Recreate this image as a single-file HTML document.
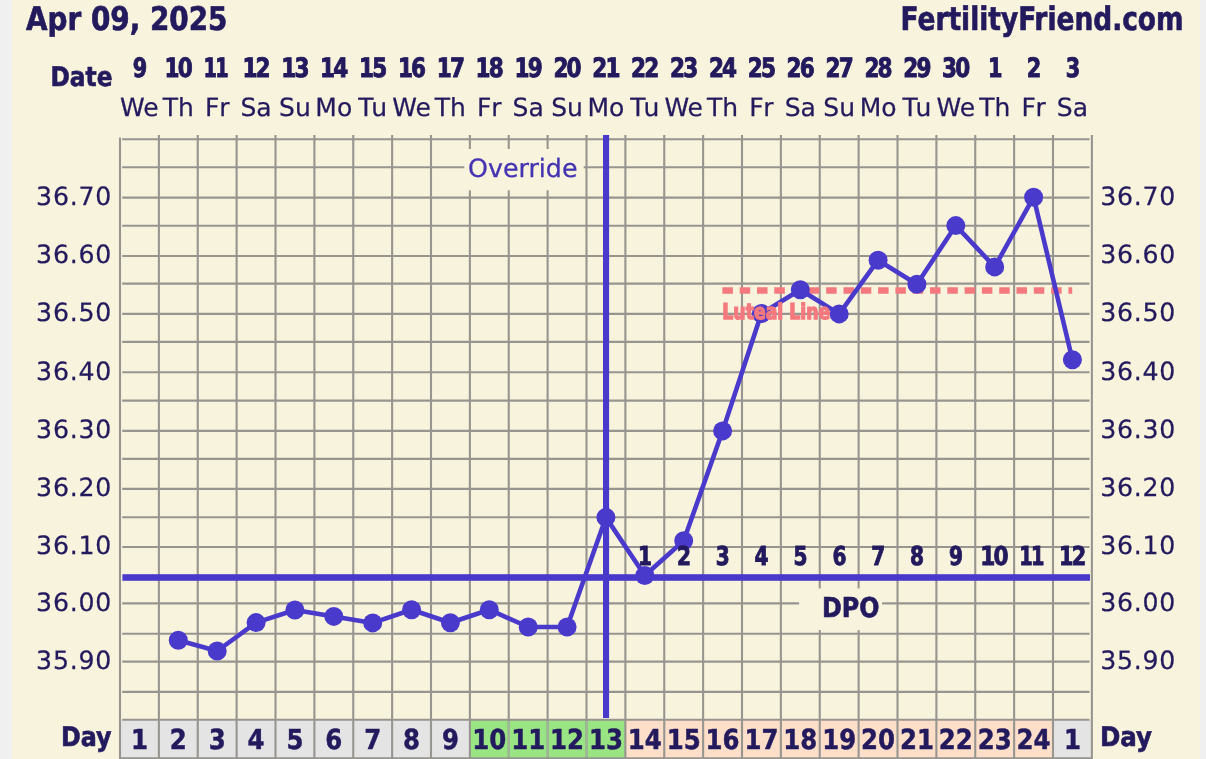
<!DOCTYPE html>
<html lang="en"><head><meta charset="utf-8"><title>FertilityFriend.com chart</title>
<style>html,body{margin:0;padding:0;background:#f0f0f0;overflow:hidden}svg{display:block;position:absolute;left:0;top:0;will-change:transform}text{font-family:"DejaVu Sans","Liberation Sans",sans-serif;fill:#231a5e;text-rendering:geometricPrecision}.b{font-family:"DejaVu Sans Condensed","DejaVu Sans","Liberation Sans",sans-serif;font-weight:bold;stroke:#231a5e;stroke-width:.6px}.bw{font-family:"DejaVu Sans","Liberation Sans",sans-serif;font-weight:bold;stroke:#231a5e;stroke-width:.5px}.m{text-anchor:middle}.d{stroke-width:.9px}.r{stroke:#231a5e;stroke-width:.25px}</style>
</head><body>
<svg width="1206" height="759" viewBox="0 0 1206 759">
<rect x="0" y="0" width="1206" height="759" fill="#f0f0f0"/>
<rect x="12" y="0" width="1188" height="759" fill="#f8f3dc"/>
<g>
<rect x="120.00" y="720" width="38.88" height="38.5" fill="#e4e4e4"/>
<rect x="158.88" y="720" width="38.88" height="38.5" fill="#e4e4e4"/>
<rect x="197.75" y="720" width="38.88" height="38.5" fill="#e4e4e4"/>
<rect x="236.62" y="720" width="38.88" height="38.5" fill="#e4e4e4"/>
<rect x="275.50" y="720" width="38.88" height="38.5" fill="#e4e4e4"/>
<rect x="314.38" y="720" width="38.88" height="38.5" fill="#e4e4e4"/>
<rect x="353.25" y="720" width="38.88" height="38.5" fill="#e4e4e4"/>
<rect x="392.12" y="720" width="38.88" height="38.5" fill="#e4e4e4"/>
<rect x="431.00" y="720" width="38.88" height="38.5" fill="#e4e4e4"/>
<rect x="469.88" y="720" width="38.88" height="38.5" fill="#99e483"/>
<rect x="508.75" y="720" width="38.88" height="38.5" fill="#99e483"/>
<rect x="547.62" y="720" width="38.88" height="38.5" fill="#99e483"/>
<rect x="586.50" y="720" width="38.88" height="38.5" fill="#99e483"/>
<rect x="625.38" y="720" width="38.88" height="38.5" fill="#fddfc9"/>
<rect x="664.25" y="720" width="38.88" height="38.5" fill="#fddfc9"/>
<rect x="703.12" y="720" width="38.88" height="38.5" fill="#fddfc9"/>
<rect x="742.00" y="720" width="38.88" height="38.5" fill="#fddfc9"/>
<rect x="780.88" y="720" width="38.88" height="38.5" fill="#fddfc9"/>
<rect x="819.75" y="720" width="38.88" height="38.5" fill="#fddfc9"/>
<rect x="858.62" y="720" width="38.88" height="38.5" fill="#fddfc9"/>
<rect x="897.50" y="720" width="38.88" height="38.5" fill="#fddfc9"/>
<rect x="936.38" y="720" width="38.88" height="38.5" fill="#fddfc9"/>
<rect x="975.25" y="720" width="38.88" height="38.5" fill="#fddfc9"/>
<rect x="1014.12" y="720" width="38.88" height="38.5" fill="#fddfc9"/>
<rect x="1053.00" y="720" width="38.88" height="38.5" fill="#e4e4e4"/>
</g>
<g stroke="#979590" stroke-width="2.1" fill="none">
<line x1="122.2" y1="139.2" x2="1089.5" y2="139.2"/>
<line x1="122.2" y1="167.2" x2="1089.5" y2="167.2"/>
<line x1="122.2" y1="197.6" x2="1089.5" y2="197.6"/>
<line x1="122.2" y1="225.7" x2="1089.5" y2="225.7"/>
<line x1="122.2" y1="256.0" x2="1089.5" y2="256.0"/>
<line x1="122.2" y1="283.6" x2="1089.5" y2="283.6"/>
<line x1="122.2" y1="313.9" x2="1089.5" y2="313.9"/>
<line x1="122.2" y1="341.9" x2="1089.5" y2="341.9"/>
<line x1="122.2" y1="372.2" x2="1089.5" y2="372.2"/>
<line x1="122.2" y1="400.6" x2="1089.5" y2="400.6"/>
<line x1="122.2" y1="430.9" x2="1089.5" y2="430.9"/>
<line x1="122.2" y1="458.9" x2="1089.5" y2="458.9"/>
<line x1="122.2" y1="488.9" x2="1089.5" y2="488.9"/>
<line x1="122.2" y1="517.2" x2="1089.5" y2="517.2"/>
<line x1="122.2" y1="547.0" x2="1089.5" y2="547.0"/>
<line x1="122.2" y1="603.4" x2="1089.5" y2="603.4"/>
<line x1="122.2" y1="633.8" x2="1089.5" y2="633.8"/>
<line x1="122.2" y1="661.6" x2="1089.5" y2="661.6"/>
<line x1="122.2" y1="691.9" x2="1089.5" y2="691.9"/>
<line x1="122.2" y1="719.8" x2="1089.5" y2="719.8"/>
<line x1="120.00" y1="137.4" x2="120.00" y2="759"/>
<line x1="158.88" y1="135.0" x2="158.88" y2="759"/>
<line x1="197.75" y1="135.0" x2="197.75" y2="759"/>
<line x1="236.62" y1="135.0" x2="236.62" y2="759"/>
<line x1="275.50" y1="135.0" x2="275.50" y2="759"/>
<line x1="314.38" y1="135.0" x2="314.38" y2="759"/>
<line x1="353.25" y1="135.0" x2="353.25" y2="759"/>
<line x1="392.12" y1="135.0" x2="392.12" y2="759"/>
<line x1="431.00" y1="135.0" x2="431.00" y2="759"/>
<line x1="469.88" y1="135.0" x2="469.88" y2="759"/>
<line x1="508.75" y1="135.0" x2="508.75" y2="759"/>
<line x1="547.62" y1="135.0" x2="547.62" y2="759"/>
<line x1="586.50" y1="135.0" x2="586.50" y2="759"/>
<line x1="625.38" y1="135.0" x2="625.38" y2="759"/>
<line x1="664.25" y1="135.0" x2="664.25" y2="759"/>
<line x1="703.12" y1="135.0" x2="703.12" y2="759"/>
<line x1="742.00" y1="135.0" x2="742.00" y2="759"/>
<line x1="780.88" y1="135.0" x2="780.88" y2="759"/>
<line x1="819.75" y1="135.0" x2="819.75" y2="759"/>
<line x1="858.62" y1="135.0" x2="858.62" y2="759"/>
<line x1="897.50" y1="135.0" x2="897.50" y2="759"/>
<line x1="936.38" y1="135.0" x2="936.38" y2="759"/>
<line x1="975.25" y1="135.0" x2="975.25" y2="759"/>
<line x1="1014.12" y1="135.0" x2="1014.12" y2="759"/>
<line x1="1053.00" y1="135.0" x2="1053.00" y2="759"/>
<line x1="1091.88" y1="135.0" x2="1091.88" y2="759"/>
<line x1="120.00" y1="758.2" x2="1091.88" y2="758.2"/>
<line x1="508.75" y1="721" x2="508.75" y2="757" stroke="#a0b897"/>
<line x1="547.62" y1="721" x2="547.62" y2="757" stroke="#a0b897"/>
<line x1="586.50" y1="721" x2="586.50" y2="757" stroke="#a0b897"/>
</g>
<rect x="464.3" y="149" width="119.4" height="41.3" fill="#f8f3dc"/>
<rect x="799.1" y="588.5" width="83" height="41.6" fill="#f8f3dc"/>
<rect x="122.4" y="574.2" width="967.6" height="6.6" fill="#4a3acb"/>
<rect x="603" y="135" width="6.1" height="583" fill="#4a3acb"/>
<line x1="722.4" y1="290.5" x2="1072.2" y2="290.5" stroke="#f4797f" stroke-width="6.6" stroke-dasharray="10.5 6.8"/>
<polyline fill="none" stroke="#4a3acb" stroke-width="4.6" stroke-linejoin="round" points="178.3,640.3 217.2,651.0 256.1,622.6 294.9,610.0 333.8,616.4 372.7,622.9 411.6,609.7 450.4,622.8 489.3,609.7 528.2,627.0 567.1,627.0 605.9,517.4 644.8,575.5 683.7,540.8 722.6,430.9 761.4,313.5 800.3,289.8 839.2,313.9 878.1,260.2 916.9,284.2 955.8,225.6 994.7,266.9 1033.6,197.2 1072.4,359.8"/>
<g fill="#4a3acb">
<circle cx="178.3" cy="640.3" r="9.5"/>
<circle cx="217.2" cy="651.0" r="9.5"/>
<circle cx="256.1" cy="622.6" r="9.5"/>
<circle cx="294.9" cy="610.0" r="9.5"/>
<circle cx="333.8" cy="616.4" r="9.5"/>
<circle cx="372.7" cy="622.9" r="9.5"/>
<circle cx="411.6" cy="609.7" r="9.5"/>
<circle cx="450.4" cy="622.8" r="9.5"/>
<circle cx="489.3" cy="609.7" r="9.5"/>
<circle cx="528.2" cy="627.0" r="9.5"/>
<circle cx="567.1" cy="627.0" r="9.5"/>
<circle cx="605.9" cy="517.4" r="9.5"/>
<circle cx="644.8" cy="575.5" r="9.5"/>
<circle cx="683.7" cy="540.8" r="9.5"/>
<circle cx="722.6" cy="430.9" r="9.5"/>
<circle cx="761.4" cy="313.5" r="9.5"/>
<circle cx="800.3" cy="289.8" r="9.5"/>
<circle cx="839.2" cy="313.9" r="9.5"/>
<circle cx="878.1" cy="260.2" r="9.5"/>
<circle cx="916.9" cy="284.2" r="9.5"/>
<circle cx="955.8" cy="225.6" r="9.5"/>
<circle cx="994.7" cy="266.9" r="9.5"/>
<circle cx="1033.6" cy="197.2" r="9.5"/>
<circle cx="1072.4" cy="359.8" r="9.5"/>
</g>
<text class="b" x="26" y="30.3" font-size="32.5" textLength="201.5" lengthAdjust="spacingAndGlyphs">Apr 09, 2025</text>
<text class="b" x="900.6" y="30.3" font-size="32.5" textLength="283" lengthAdjust="spacingAndGlyphs">FertilityFriend.com</text>
<text class="b" x="50.5" y="86.2" font-size="27" textLength="62" lengthAdjust="spacingAndGlyphs">Date</text>
<text class="b m d" x="139.9" y="77.3" font-size="26.6" textLength="14.5" lengthAdjust="spacingAndGlyphs">9</text>
<text class="b m d" x="177.8" y="77.3" font-size="26.6" textLength="26.4" lengthAdjust="spacingAndGlyphs" letter-spacing="-2">10</text>
<text class="b m d" x="215.2" y="77.3" font-size="26.6" textLength="23.6" lengthAdjust="spacingAndGlyphs" letter-spacing="-2">11</text>
<text class="b m d" x="255.6" y="77.3" font-size="26.6" textLength="26.4" lengthAdjust="spacingAndGlyphs" letter-spacing="-2">12</text>
<text class="b m d" x="294.4" y="77.3" font-size="26.6" textLength="26.4" lengthAdjust="spacingAndGlyphs" letter-spacing="-2">13</text>
<text class="b m d" x="333.3" y="77.3" font-size="26.6" textLength="26.4" lengthAdjust="spacingAndGlyphs" letter-spacing="-2">14</text>
<text class="b m d" x="372.2" y="77.3" font-size="26.6" textLength="26.4" lengthAdjust="spacingAndGlyphs" letter-spacing="-2">15</text>
<text class="b m d" x="411.1" y="77.3" font-size="26.6" textLength="26.4" lengthAdjust="spacingAndGlyphs" letter-spacing="-2">16</text>
<text class="b m d" x="449.9" y="77.3" font-size="26.6" textLength="26.4" lengthAdjust="spacingAndGlyphs" letter-spacing="-2">17</text>
<text class="b m d" x="488.8" y="77.3" font-size="26.6" textLength="26.4" lengthAdjust="spacingAndGlyphs" letter-spacing="-2">18</text>
<text class="b m d" x="527.7" y="77.3" font-size="26.6" textLength="26.4" lengthAdjust="spacingAndGlyphs" letter-spacing="-2">19</text>
<text class="b m d" x="566.6" y="77.3" font-size="26.6" textLength="26.4" lengthAdjust="spacingAndGlyphs" letter-spacing="-2">20</text>
<text class="b m d" x="605.4" y="77.3" font-size="26.6" textLength="26.4" lengthAdjust="spacingAndGlyphs" letter-spacing="-2">21</text>
<text class="b m d" x="644.3" y="77.3" font-size="26.6" textLength="26.4" lengthAdjust="spacingAndGlyphs" letter-spacing="-2">22</text>
<text class="b m d" x="683.2" y="77.3" font-size="26.6" textLength="26.4" lengthAdjust="spacingAndGlyphs" letter-spacing="-2">23</text>
<text class="b m d" x="722.1" y="77.3" font-size="26.6" textLength="26.4" lengthAdjust="spacingAndGlyphs" letter-spacing="-2">24</text>
<text class="b m d" x="760.9" y="77.3" font-size="26.6" textLength="26.4" lengthAdjust="spacingAndGlyphs" letter-spacing="-2">25</text>
<text class="b m d" x="799.8" y="77.3" font-size="26.6" textLength="26.4" lengthAdjust="spacingAndGlyphs" letter-spacing="-2">26</text>
<text class="b m d" x="838.7" y="77.3" font-size="26.6" textLength="26.4" lengthAdjust="spacingAndGlyphs" letter-spacing="-2">27</text>
<text class="b m d" x="877.6" y="77.3" font-size="26.6" textLength="26.4" lengthAdjust="spacingAndGlyphs" letter-spacing="-2">28</text>
<text class="b m d" x="916.4" y="77.3" font-size="26.6" textLength="26.4" lengthAdjust="spacingAndGlyphs" letter-spacing="-2">29</text>
<text class="b m d" x="955.3" y="77.3" font-size="26.6" textLength="26.4" lengthAdjust="spacingAndGlyphs" letter-spacing="-2">30</text>
<text class="b m d" x="995.2" y="77.3" font-size="26.6" textLength="14.5" lengthAdjust="spacingAndGlyphs">1</text>
<text class="b m d" x="1034.1" y="77.3" font-size="26.6" textLength="14.5" lengthAdjust="spacingAndGlyphs">2</text>
<text class="b m d" x="1072.9" y="77.3" font-size="26.6" textLength="14.5" lengthAdjust="spacingAndGlyphs">3</text>
<text class="m r" x="139.4" y="115.7" font-size="25" textLength="38.6" lengthAdjust="spacingAndGlyphs">We</text>
<text class="m r" x="178.3" y="115.7" font-size="25">Th</text>
<text class="m r" x="218.0" y="115.7" font-size="25" letter-spacing="1.6">Fr</text>
<text class="m r" x="256.1" y="115.7" font-size="25">Sa</text>
<text class="m r" x="294.9" y="115.7" font-size="25">Su</text>
<text class="m r" x="333.8" y="115.7" font-size="25">Mo</text>
<text class="m r" x="373.5" y="115.7" font-size="25" letter-spacing="1.6">Tu</text>
<text class="m r" x="411.6" y="115.7" font-size="25" textLength="38.6" lengthAdjust="spacingAndGlyphs">We</text>
<text class="m r" x="450.4" y="115.7" font-size="25">Th</text>
<text class="m r" x="490.1" y="115.7" font-size="25" letter-spacing="1.6">Fr</text>
<text class="m r" x="528.2" y="115.7" font-size="25">Sa</text>
<text class="m r" x="567.1" y="115.7" font-size="25">Su</text>
<text class="m r" x="605.9" y="115.7" font-size="25">Mo</text>
<text class="m r" x="645.6" y="115.7" font-size="25" letter-spacing="1.6">Tu</text>
<text class="m r" x="683.7" y="115.7" font-size="25" textLength="38.6" lengthAdjust="spacingAndGlyphs">We</text>
<text class="m r" x="722.6" y="115.7" font-size="25">Th</text>
<text class="m r" x="762.2" y="115.7" font-size="25" letter-spacing="1.6">Fr</text>
<text class="m r" x="800.3" y="115.7" font-size="25">Sa</text>
<text class="m r" x="839.2" y="115.7" font-size="25">Su</text>
<text class="m r" x="878.1" y="115.7" font-size="25">Mo</text>
<text class="m r" x="917.7" y="115.7" font-size="25" letter-spacing="1.6">Tu</text>
<text class="m r" x="955.8" y="115.7" font-size="25" textLength="38.6" lengthAdjust="spacingAndGlyphs">We</text>
<text class="m r" x="994.7" y="115.7" font-size="25">Th</text>
<text class="m r" x="1034.4" y="115.7" font-size="25" letter-spacing="1.6">Fr</text>
<text class="m r" x="1072.4" y="115.7" font-size="25">Sa</text>
<text class="r" x="111.4" y="204.9" font-size="25.2" text-anchor="end" textLength="75.3" lengthAdjust="spacing">36.70</text>
<text class="r" x="1100.2" y="204.9" font-size="25.2" textLength="75" lengthAdjust="spacing">36.70</text>
<text class="r" x="111.4" y="263.3" font-size="25.2" text-anchor="end" textLength="75.3" lengthAdjust="spacing">36.60</text>
<text class="r" x="1100.2" y="263.3" font-size="25.2" textLength="75" lengthAdjust="spacing">36.60</text>
<text class="r" x="111.4" y="321.2" font-size="25.2" text-anchor="end" textLength="75.3" lengthAdjust="spacing">36.50</text>
<text class="r" x="1100.2" y="321.2" font-size="25.2" textLength="75" lengthAdjust="spacing">36.50</text>
<text class="r" x="111.4" y="379.5" font-size="25.2" text-anchor="end" textLength="75.3" lengthAdjust="spacing">36.40</text>
<text class="r" x="1100.2" y="379.5" font-size="25.2" textLength="75" lengthAdjust="spacing">36.40</text>
<text class="r" x="111.4" y="438.2" font-size="25.2" text-anchor="end" textLength="75.3" lengthAdjust="spacing">36.30</text>
<text class="r" x="1100.2" y="438.2" font-size="25.2" textLength="75" lengthAdjust="spacing">36.30</text>
<text class="r" x="111.4" y="496.2" font-size="25.2" text-anchor="end" textLength="75.3" lengthAdjust="spacing">36.20</text>
<text class="r" x="1100.2" y="496.2" font-size="25.2" textLength="75" lengthAdjust="spacing">36.20</text>
<text class="r" x="111.4" y="554.3" font-size="25.2" text-anchor="end" textLength="75.3" lengthAdjust="spacing">36.10</text>
<text class="r" x="1100.2" y="554.3" font-size="25.2" textLength="75" lengthAdjust="spacing">36.10</text>
<text class="r" x="111.4" y="610.7" font-size="25.2" text-anchor="end" textLength="75.3" lengthAdjust="spacing">36.00</text>
<text class="r" x="1100.2" y="610.7" font-size="25.2" textLength="75" lengthAdjust="spacing">36.00</text>
<text class="r" x="111.4" y="668.9" font-size="25.2" text-anchor="end" textLength="75.3" lengthAdjust="spacing">35.90</text>
<text class="r" x="1100.2" y="668.9" font-size="25.2" textLength="75" lengthAdjust="spacing">35.90</text>
<text x="468" y="177" font-size="25.3" style="fill:#4434b2;stroke:#4434b2;stroke-width:.3px">Override</text>
<text class="b" x="722.3" y="318.9" font-size="21.6" textLength="108" lengthAdjust="spacingAndGlyphs" style="fill:#f4797f;stroke:#f4797f;stroke-width:1.3px">Luteal Line</text>
<text class="b m d" x="645.0" y="565.3" font-size="26" textLength="14.0" lengthAdjust="spacingAndGlyphs">1</text>
<text class="b m d" x="683.9" y="565.3" font-size="26" textLength="14.0" lengthAdjust="spacingAndGlyphs">2</text>
<text class="b m d" x="722.8" y="565.3" font-size="26" textLength="14.0" lengthAdjust="spacingAndGlyphs">3</text>
<text class="b m d" x="761.6" y="565.3" font-size="26" textLength="14.0" lengthAdjust="spacingAndGlyphs">4</text>
<text class="b m d" x="800.5" y="565.3" font-size="26" textLength="14.0" lengthAdjust="spacingAndGlyphs">5</text>
<text class="b m d" x="839.4" y="565.3" font-size="26" textLength="14.0" lengthAdjust="spacingAndGlyphs">6</text>
<text class="b m d" x="878.3" y="565.3" font-size="26" textLength="14.0" lengthAdjust="spacingAndGlyphs">7</text>
<text class="b m d" x="917.1" y="565.3" font-size="26" textLength="14.0" lengthAdjust="spacingAndGlyphs">8</text>
<text class="b m d" x="956.0" y="565.3" font-size="26" textLength="14.0" lengthAdjust="spacingAndGlyphs">9</text>
<text class="b m d" x="993.4" y="565.3" font-size="26" textLength="26.4" lengthAdjust="spacingAndGlyphs" letter-spacing="-2">10</text>
<text class="b m d" x="1031.1" y="565.3" font-size="26" textLength="23.6" lengthAdjust="spacingAndGlyphs" letter-spacing="-2">11</text>
<text class="b m d" x="1071.8" y="565.3" font-size="26" textLength="25.4" lengthAdjust="spacingAndGlyphs" letter-spacing="-2">12</text>
<text class="b" x="822" y="617.2" font-size="27.3" textLength="57.5" lengthAdjust="spacingAndGlyphs">DPO</text>
<text class="b" x="61" y="746.3" font-size="27" textLength="50.5" lengthAdjust="spacingAndGlyphs">Day</text>
<text class="b" x="1100" y="746.3" font-size="27" textLength="52" lengthAdjust="spacingAndGlyphs">Day</text>
<text class="bw m" x="139.4" y="748.8" font-size="27.6" textLength="17" lengthAdjust="spacingAndGlyphs">1</text>
<text class="bw m" x="178.3" y="748.8" font-size="27.6" textLength="17" lengthAdjust="spacingAndGlyphs">2</text>
<text class="bw m" x="217.2" y="748.8" font-size="27.6" textLength="17" lengthAdjust="spacingAndGlyphs">3</text>
<text class="bw m" x="256.1" y="748.8" font-size="27.6" textLength="17" lengthAdjust="spacingAndGlyphs">4</text>
<text class="bw m" x="294.9" y="748.8" font-size="27.6" textLength="17" lengthAdjust="spacingAndGlyphs">5</text>
<text class="bw m" x="333.8" y="748.8" font-size="27.6" textLength="17" lengthAdjust="spacingAndGlyphs">6</text>
<text class="bw m" x="372.7" y="748.8" font-size="27.6" textLength="17" lengthAdjust="spacingAndGlyphs">7</text>
<text class="bw m" x="411.6" y="748.8" font-size="27.6" textLength="17" lengthAdjust="spacingAndGlyphs">8</text>
<text class="bw m" x="450.4" y="748.8" font-size="27.6" textLength="17" lengthAdjust="spacingAndGlyphs">9</text>
<text class="bw m" x="489.3" y="748.8" font-size="27.6" textLength="34" lengthAdjust="spacingAndGlyphs">10</text>
<text class="bw m" x="528.2" y="748.8" font-size="27.6" textLength="34" lengthAdjust="spacingAndGlyphs">11</text>
<text class="bw m" x="567.1" y="748.8" font-size="27.6" textLength="34" lengthAdjust="spacingAndGlyphs">12</text>
<text class="bw m" x="605.9" y="748.8" font-size="27.6" textLength="34" lengthAdjust="spacingAndGlyphs">13</text>
<text class="bw m" x="644.8" y="748.8" font-size="27.6" textLength="34" lengthAdjust="spacingAndGlyphs">14</text>
<text class="bw m" x="683.7" y="748.8" font-size="27.6" textLength="34" lengthAdjust="spacingAndGlyphs">15</text>
<text class="bw m" x="722.6" y="748.8" font-size="27.6" textLength="34" lengthAdjust="spacingAndGlyphs">16</text>
<text class="bw m" x="761.4" y="748.8" font-size="27.6" textLength="34" lengthAdjust="spacingAndGlyphs">17</text>
<text class="bw m" x="800.3" y="748.8" font-size="27.6" textLength="34" lengthAdjust="spacingAndGlyphs">18</text>
<text class="bw m" x="839.2" y="748.8" font-size="27.6" textLength="34" lengthAdjust="spacingAndGlyphs">19</text>
<text class="bw m" x="878.1" y="748.8" font-size="27.6" textLength="34" lengthAdjust="spacingAndGlyphs">20</text>
<text class="bw m" x="916.9" y="748.8" font-size="27.6" textLength="34" lengthAdjust="spacingAndGlyphs">21</text>
<text class="bw m" x="955.8" y="748.8" font-size="27.6" textLength="34" lengthAdjust="spacingAndGlyphs">22</text>
<text class="bw m" x="994.7" y="748.8" font-size="27.6" textLength="34" lengthAdjust="spacingAndGlyphs">23</text>
<text class="bw m" x="1033.6" y="748.8" font-size="27.6" textLength="34" lengthAdjust="spacingAndGlyphs">24</text>
<text class="bw m" x="1072.4" y="748.8" font-size="27.6" textLength="17" lengthAdjust="spacingAndGlyphs">1</text>
</svg>
</body></html>
